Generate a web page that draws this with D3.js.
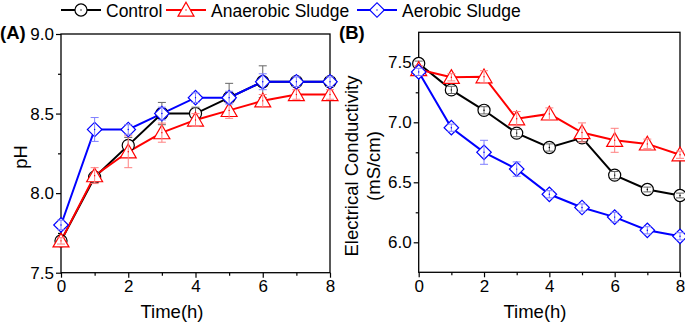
<!DOCTYPE html>
<html><head><meta charset="utf-8">
<script src="https://cdn.jsdelivr.net/npm/d3@7"></script>
<style>body{margin:0;background:#fff}svg{display:block;font-family:"Liberation Sans",Arial,sans-serif}</style>
</head><body><svg id="c" width="685" height="322"></svg>
<script>
const hours = [0,1,2,3,4,5,6,7,8];
const seriesNames = ["Control","Anaerobic Sludge","Aerobic Sludge"];
// pH
const phControl   = [7.70,8.10,8.30,8.50,8.50,8.60,8.70,8.70,8.70];
const phAnaerobic = [7.70,8.11,8.26,8.38,8.46,8.52,8.58,8.62,8.62];
const phAerobic   = [7.80,8.40,8.40,8.50,8.60,8.60,8.70,8.70,8.70];
const phControlErr   = [0.02,0.03,0.05,0.07,0.04,0.09,0.10,0.03,0.03];
const phAnaerobicErr = [0.02,0.05,0.10,0.06,0.04,0.05,0.04,0.03,0.03];
const phAerobicErr   = [0.03,0.075,0.03,0.04,0.03,0.04,0.05,0.03,0.03];
// Electrical conductivity
const ecControl   = [7.49,7.27,7.10,6.91,6.79,6.87,6.56,6.44,6.39];
const ecAnaerobic = [7.44,7.375,7.38,7.03,7.07,6.915,6.85,6.82,6.73];
const ecAerobic   = [7.42,6.955,6.75,6.61,6.40,6.29,6.21,6.10,6.05];
const ecControlErr   = [0.02,0.03,0.03,0.03,0.03,0.03,0.03,0.02,0.02];
const ecAnaerobicErr = [0.03,0.03,0.05,0.06,0.05,0.08,0.10,0.04,0.03];
const ecAerobicErr   = [0.03,0.03,0.10,0.06,0.03,0.03,0.04,0.03,0.03];
const xTicks = [0,2,4,6,8];
const phTicks = [7.5,8.0,8.5,9.0];
const ecTicks = [6.0,6.5,7.0,7.5];

const colors = ["#000000","#ff0000","#0000ff"];
const errColors = ["#666666","#ff8080","#7f7fff"];
const shapes = [d3.symbolCircle, d3.symbolTriangle, d3.symbolSquare];
const shapeSize = [115, 110, 105];
const shapeRot = [0, 0, 45];
const shapeDy = [0, 1.5, 0];

const svg = d3.select("#c");

function marker(sel, k, cx, cy){
  sel.append("path").attr("d",d3.symbol().type(shapes[k]).size(shapeSize[k]))
    .attr("transform",`translate(${cx},${cy+shapeDy[k]}) rotate(${shapeRot[k]})`)
    .attr("fill","#fff").attr("stroke",colors[k]).attr("stroke-width",1.2);
}

function panel(opt){
  const g = svg.append("g");
  const x = d3.scaleLinear().domain([0,8]).range([opt.x0, opt.x1]);
  const y = d3.scaleLinear().domain(opt.ydom).range([opt.y1, opt.y0]);
  g.append("rect").attr("x",opt.x0).attr("y",opt.y0).attr("width",opt.x1-opt.x0).attr("height",opt.y1-opt.y0)
    .attr("fill","none").attr("stroke","#000").attr("stroke-width",1.3);
  const xa = g.append("g").attr("transform",`translate(0,${opt.y1})`)
    .call(d3.axisBottom(x).tickValues(xTicks).tickFormat(d3.format("d")).tickSize(5).tickPadding(1));
  const xm = g.append("g").attr("transform",`translate(0,${opt.y1})`)
    .call(d3.axisBottom(x).tickValues([1,3,5,7]).tickFormat("").tickSize(3));
  const ya = g.append("g").attr("transform",`translate(${opt.x0},0)`)
    .call(d3.axisLeft(y).tickValues(opt.yticks).tickFormat(d3.format(".1f")).tickSize(5).tickPadding(2));
  const ym = g.append("g").attr("transform",`translate(${opt.x0},0)`)
    .call(d3.axisLeft(y).tickValues(opt.yminor).tickFormat("").tickSize(3));
  [xa,xm,ya,ym].forEach(a=>{
    a.select(".domain").remove();
    a.selectAll("line").attr("stroke","#000").attr("stroke-width",1.2);
    a.selectAll("text").attr("font-size",17).attr("fill","#000").attr("font-family","Liberation Sans, Arial, sans-serif");
  });
  xa.selectAll("text").attr("dy","0.8em");
  g.append("text").attr("x",opt.xtx).attr("y",318).attr("text-anchor","middle")
    .attr("font-size",18.5).text("Time(h)");
  opt.ytitle.forEach((t,i)=>{
    g.append("text").attr("transform",`translate(${opt.ytx[i]},${opt.yty}) rotate(-90)`)
      .attr("text-anchor","middle").attr("font-size",18.5).text(t);
  });
  g.append("text").attr("x",opt.lx).attr("y",39).attr("font-size",18.5).attr("font-weight","bold").text(opt.label);

  const line = d3.line().x((d,i)=>x(hours[i])).y(d=>y(d));
  opt.series.forEach((s,k)=>{
    g.append("path").datum(s).attr("d",line).attr("fill","none").attr("stroke",colors[k]).attr("stroke-width",2);
  });
  opt.series.forEach((s,k)=>{
    const sg = g.append("g");
    s.forEach((d,i)=>marker(sg,k,x(hours[i]),y(d)));
    s.forEach((d,i)=>{
      const e = opt.errs[k][i], cx = x(hours[i]);
      const yt = y(d+e), yb = y(d-e);
      sg.append("line").attr("x1",cx).attr("x2",cx).attr("y1",yt).attr("y2",yb).attr("stroke",errColors[k]).attr("stroke-width",1);
      [yt,yb].forEach(yy=>sg.append("line").attr("x1",cx-4).attr("x2",cx+4).attr("y1",yy).attr("y2",yy).attr("stroke",errColors[k]).attr("stroke-width",1));
    });
    sg.selectAll("circle.c").data(s).join("circle").attr("class","c")
      .attr("cx",(d,i)=>x(hours[i])).attr("cy",d=>y(d)).attr("r",0.7).attr("fill",colors[k]);
  });
}

panel({x0:61,x1:330,y0:34,y1:272.7,ydom:[7.5,9.0],yticks:phTicks,yminor:[7.75,8.25,8.75],
  series:[phControl,phAnaerobic,phAerobic],errs:[phControlErr,phAnaerobicErr,phAerobicErr],
  xtx:172,ytitle:["pH"],ytx:[27],yty:157,label:"(A)",lx:0});
panel({x0:418.7,x1:680,y0:32.3,y1:272.3,ydom:[5.75,7.75],yticks:ecTicks,yminor:[6.25,6.75,7.25],
  series:[ecControl,ecAnaerobic,ecAerobic],errs:[ecControlErr,ecAnaerobicErr,ecAerobicErr],
  xtx:535,ytitle:["Electrical Conductivity","(mS/cm)"],ytx:[358,380],yty:166,label:"(B)",lx:339});

const legX = [61,166,357], legY = 10;
seriesNames.forEach((n,k)=>{
  const lg = svg.append("g");
  lg.append("line").attr("x1",legX[k]).attr("x2",legX[k]+40).attr("y1",legY).attr("y2",legY).attr("stroke",colors[k]).attr("stroke-width",2);
  marker(lg,k,legX[k]+20,legY);
  lg.append("circle").attr("cx",legX[k]+20).attr("cy",legY).attr("r",0.7).attr("fill",colors[k]);
  lg.append("text").attr("x",legX[k]+45).attr("y",legY+6.5).attr("font-size",17.5).text(n);
});
</script></body></html>
